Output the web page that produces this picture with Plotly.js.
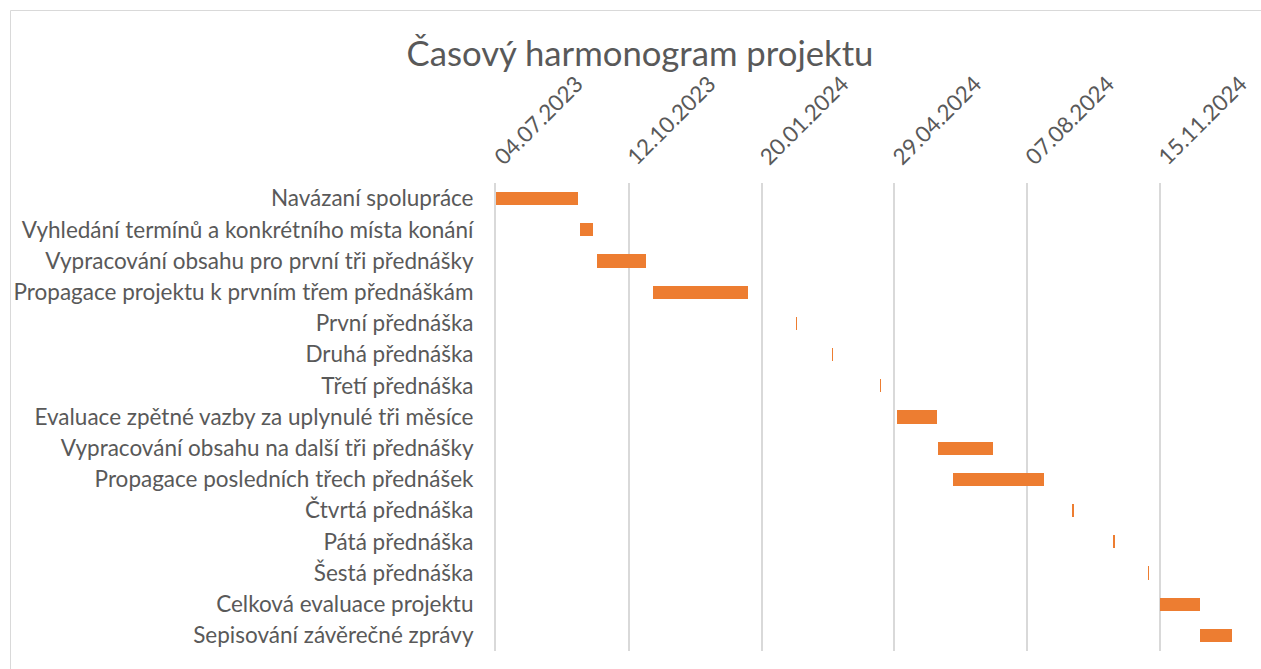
<!DOCTYPE html>
<html>
<head>
<meta charset="utf-8">
<script src="https://cdn.plot.ly/plotly-3.0.1.min.js"></script>
<style>
html,body{margin:0;padding:0;background:#fff;overflow:hidden;}
#chart{width:1261px;height:669px;}
</style>
</head>
<body>
<div id="chart"></div>
<script>
const tasks = [
  "Navázaní spolupráce",
  "Vyhledání termínů a konkrétního místa konání",
  "Vypracování obsahu pro první tři přednášky",
  "Propagace projektu k prvním třem přednáškám",
  "První přednáška",
  "Druhá přednáška",
  "Třetí přednáška",
  "Evaluace zpětné vazby za uplynulé tři měsíce",
  "Vypracování obsahu na další tři přednášky",
  "Propagace posledních třech přednášek",
  "Čtvrtá přednáška",
  "Pátá přednáška",
  "Šestá přednáška",
  "Celková evaluace projektu",
  "Sepisování závěrečné zprávy"
];
const startDates = [
  "2023-07-04", "2023-09-05", "2023-09-18", "2023-10-30",
  "2024-02-15", "2024-03-13", "2024-04-18", "2024-05-01",
  "2024-06-01", "2024-06-12", "2024-09-10", "2024-10-11",
  "2024-11-06", "2024-11-15", "2024-12-15"
];
const durationDays = [62, 10, 37, 72, 1, 1, 1, 30, 41, 69, 1, 1, 1, 30, 24];

const axisStart = "2023-07-04";
const axisEnd = "2025-01-09";
const tickStepDays = 100;

const DAY = 86400000;
const FONT = "Lato, 'Liberation Sans', sans-serif";
const GREY = "#595959";

const trace = {
  type: "bar",
  orientation: "h",
  y: tasks,
  base: startDates,
  x: durationDays.map(d => d * DAY),
  width: 0.42,
  marker: {color: "#ED7D31", line: {width: 0}},
  hoverinfo: "y"
};

const L = 496, R = 28, T = 183, B = 18, W = 1261, H = 669;
const pw = W - L - R, ph = H - T - B;
const px = v => (v - L) / pw;
const py = v => 1 - (v - T) / ph;

const layout = {
  width: W, height: H,
  margin: {l: L, r: R, t: T, b: B},
  paper_bgcolor: "#fff",
  plot_bgcolor: "#fff",
  showlegend: false,
  bargap: 0,
  font: {family: FONT, color: GREY},
  title: {
    text: "Časový harmonogram projektu",
    font: {family: FONT, size: 34.7, color: GREY},
    x: 640 / W, xanchor: "center", xref: "container",
    y: 1 - 54 / H, yanchor: "middle", yref: "container"
  },
  xaxis: {
    type: "date",
    side: "top",
    range: [axisStart, axisEnd],
    tickmode: "linear",
    tick0: axisStart,
    dtick: tickStepDays * DAY,
    tickformat: "%d.%m.%Y",
    tickangle: -45,
    tickfont: {family: FONT, size: 22.3, color: GREY},
    ticks: "",
    ticklabelstandoff: 8,
    showgrid: true,
    gridcolor: "#d9d9d9",
    gridwidth: 2,
    zeroline: false,
    showline: false,
    fixedrange: true
  },
  yaxis: {
    type: "category",
    autorange: "reversed",
    tickfont: {family: FONT, size: 22.5, color: GREY},
    ticks: "",
    ticklabelstandoff: 16,
    showgrid: false,
    zeroline: false,
    showline: true,
    linecolor: "#d9d9d9",
    linewidth: 2,
    fixedrange: true
  },
  shapes: [{
    type: "rect", xref: "paper", yref: "paper",
    x0: px(10.5), x1: px(1275), y0: py(690), y1: py(10.5),
    line: {color: "#d9d9d9", width: 1}, fillcolor: "rgba(0,0,0,0)",
    layer: "below"
  }]
};

Plotly.newPlot("chart", [trace], layout, {displayModeBar: false, staticPlot: true});
</script>
</body>
</html>
